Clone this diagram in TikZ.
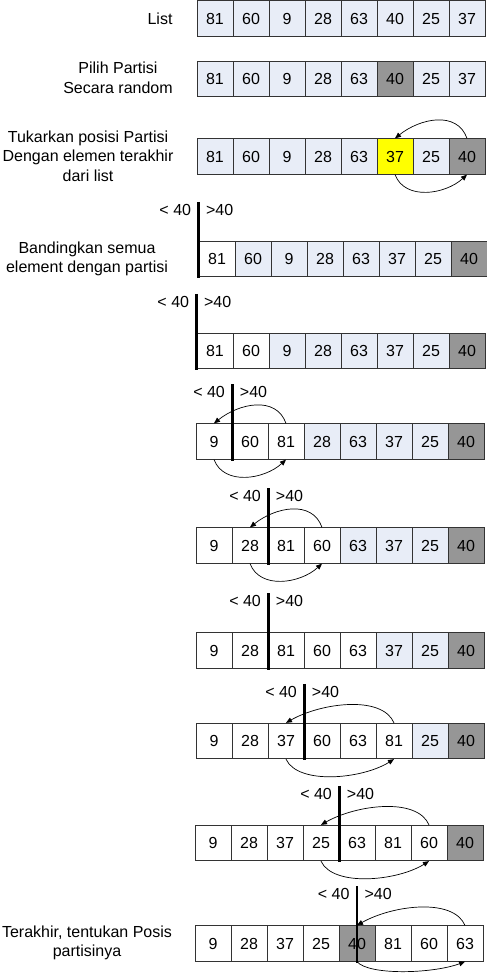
\documentclass[tikz,border=0pt]{standalone}
\usepackage{fontspec}
\setmainfont{Liberation Sans}
\definecolor{cellBlue}{HTML}{E8EDF7}
\definecolor{cellGray}{HTML}{969696}
\definecolor{cellYellow}{HTML}{FFFF00}
\definecolor{lineDark}{HTML}{333333}
\usetikzlibrary{arrows.meta, positioning}

% one row of the list: name, left x, centre y, value/style pairs
\newcommand{\listrow}[4]{%
  \foreach \v/\s [count=\i] in {#4}
    \node[cell, \s] (#1c\i) at ({#2+36*\i-18}, #3) {\v};}

\begin{document}
\begin{tikzpicture}[x=1pt, y=-1pt,
    txt/.style={font=\fontsize{16}{19.5}\selectfont},
    cell/.style={txt, draw=lineDark, minimum width=36pt, minimum height=35.5pt,
                 inner sep=0pt, line width=0.8pt},
    cb/.style={fill=cellBlue},
    cw/.style={fill=white},
    cg/.style={fill=cellGray},
    cy/.style={fill=cellYellow},
    steplabel/.style={txt, align=center},
    divider/.style={black, line width=2.3pt},
    swaparc/.style={-{Triangle[length=6pt, width=5pt]}, black, line width=0.7pt}]
  \useasboundingbox (0,0) rectangle (487,980);

  % rows of the list
  \listrow{r1}{197}{18.5}{81/cb,60/cb,9/cb,28/cb,63/cb,40/cb,25/cb,37/cb}
  \listrow{r2}{197}{79}{81/cb,60/cb,9/cb,28/cb,63/cb,40/cg,25/cb,37/cb}
  \listrow{r3}{197}{156.5}{81/cb,60/cb,9/cb,28/cb,63/cb,37/cy,25/cb,40/cg}
  \listrow{r4}{199}{259}{81/cw,60/cb,9/cb,28/cb,63/cb,37/cb,25/cb,40/cg}
  \listrow{r5}{197}{351}{81/cw,60/cw,9/cb,28/cb,63/cb,37/cb,25/cb,40/cg}
  \listrow{r6}{196}{441.5}{9/cw,60/cw,81/cw,28/cb,63/cb,37/cb,25/cb,40/cg}
  \listrow{r7}{196}{545.5}{9/cw,28/cw,81/cw,60/cw,63/cb,37/cb,25/cb,40/cg}
  \listrow{r8}{196}{650.5}{9/cw,28/cw,81/cw,60/cw,63/cw,37/cb,25/cb,40/cg}
  \listrow{r9}{196}{741}{9/cw,28/cw,37/cw,60/cw,63/cw,81/cw,25/cb,40/cg}
  \listrow{r10}{195}{843}{9/cw,28/cw,37/cw,25/cw,63/cw,81/cw,60/cw,40/cg}
  \listrow{r11}{195}{943.5}{9/cw,28/cw,37/cw,25/cw,40/cg,81/cw,60/cw,63/cw}

  % step labels
  \node[steplabel, anchor=east] (lbl1) at (176,18.5) {List};
  \node[steplabel] (lbl2) at (118,78) {Pilih Partisi\\Secara random};
  \node[steplabel] (lbl3) at (88,156) {Tukarkan posisi Partisi\\Dengan elemen terakhir\\dari list};
  \node[steplabel] (lbl4) at (87,259) {Bandingkan semua\\element dengan partisi};
  \node[steplabel] (lbl11) at (87,943) {Terakhir, tentukan Posis\\partisinya};

  % partition dividers
  \foreach \r/\c/\a in {r4/1/north west, r5/1/north west, r6/1/north east,
                        r7/2/north east, r8/2/north east, r9/3/north east,
                        r10/4/north east, r11/5/north} {
    \coordinate (\r top) at ([yshift=39pt]\r c\c.\a);
    \draw[divider] (\r top) -- ([yshift=-1pt]\r c\c.\a |- \r c\c.south);
    \node[txt, anchor=east] (\r lt) at ([xshift=-4pt, yshift=-8pt]\r top) {< 40};
    \node[txt, anchor=west] (\r gt) at ([xshift=4pt, yshift=-8pt]\r top) {>40};
  }

  % swaps
  \draw[swaparc] (r3c8.north) .. controls +(-10pt,28pt) and +(25pt,20pt) .. (r3c6.north);
  \draw[swaparc] (r3c6.south) .. controls +(10pt,-26pt) and +(-22pt,-20pt) .. (r3c8.south);
  \draw[swaparc] (r6c3.north) .. controls +(-10pt,28pt) and +(25pt,20pt) .. (r6c1.north);
  \draw[swaparc] (r6c1.south) .. controls +(10pt,-26pt) and +(-22pt,-20pt) .. (r6c3.south);
  \draw[swaparc] (r7c4.north) .. controls +(-10pt,28pt) and +(25pt,20pt) .. (r7c2.north);
  \draw[swaparc] (r7c2.south) .. controls +(10pt,-26pt) and +(-22pt,-20pt) .. (r7c4.south);
  \draw[swaparc] (r9c6.north) .. controls +(-12pt,28pt) and +(35pt,20pt) .. (r9c3.north);
  \draw[swaparc] (r9c3.south) .. controls +(12pt,-26pt) and +(-32pt,-20pt) .. (r9c6.south);
  \draw[swaparc] (r10c7.north) .. controls +(-12pt,28pt) and +(35pt,20pt) .. (r10c4.north);
  \draw[swaparc] (r10c4.south) .. controls +(12pt,-26pt) and +(-32pt,-20pt) .. (r10c7.south);
  \draw[swaparc] (r11c8.north) .. controls +(-12pt,28pt) and +(35pt,20pt) .. (r11c5.north);
  \draw[swaparc] (r11c5.south) .. controls +(12pt,-14pt) and +(-32pt,-12pt) .. (r11c8.south);
\end{tikzpicture}
\end{document}
